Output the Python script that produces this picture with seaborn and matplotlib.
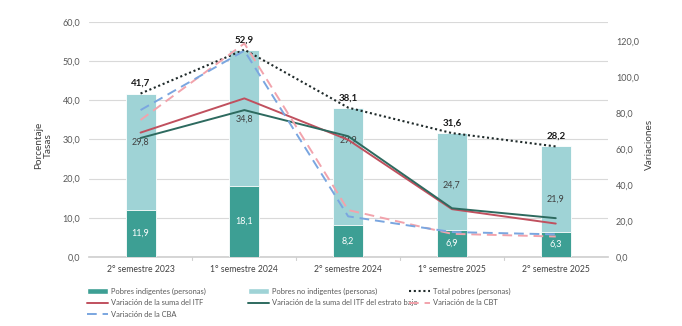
import numpy as np
import pandas as pd
import matplotlib
matplotlib.use("Agg")
import matplotlib.pyplot as plt
from matplotlib.lines import Line2D
from matplotlib.patches import Patch
import seaborn as sns

# Semesters and poverty rates (% of persons)
periodos = ["2° semestre 2023", "1° semestre 2024", "2° semestre 2024",
            "1° semestre 2025", "2° semestre 2025"]
indigentes = [11.9, 18.1, 8.2, 6.9, 6.3]
no_indigentes = [29.8, 34.8, 29.9, 24.7, 21.9]
total_pobres = [41.7, 52.9, 38.1, 31.6, 28.2]

# Year-on-year variations (%)
var_itf = [69.0, 88.0, 65.0, 26.5, 18.5]
var_itf_bajo = [66.0, 81.5, 67.0, 27.0, 21.5]
var_cbt = [76.0, 118.5, 26.0, 12.8, 11.3]
var_cba = [81.5, 114.5, 22.5, 13.8, 12.5]

# Vertical nudges for the non-indigent labels so they clear the lines
label_nudge = [2.5, -0.3, 6.7, -0.9, -2.4]

df = pd.DataFrame({"periodo": periodos, "indig": indigentes,
                   "no_indig": no_indigentes, "total": total_pobres})

sns.set_theme(style="white")
plt.rcParams["font.family"] = ["Lato", "DejaVu Sans"]

C_IND = "#3d9f94"
C_NOIND = "#9fd3d6"
C_ITF = "#c0505e"
C_BAJO = "#2d6a5f"
C_CBT = "#f2a3ac"
C_CBA = "#7aa6e0"
GRAY = "#595959"

fig = plt.figure(figsize=(6.82, 3.26), dpi=100)
ax = fig.add_axes([0.130, 0.212, 0.761, 0.721])
x = np.arange(len(periodos))
bw = 0.29

sns.barplot(data=df, x="periodo", y="total", color=C_NOIND, width=bw,
            edgecolor="white", linewidth=0.6, ax=ax, saturation=1, zorder=2)
sns.barplot(data=df, x="periodo", y="indig", color=C_IND, width=bw,
            edgecolor="white", linewidth=0.6, ax=ax, saturation=1, zorder=3)
ax.plot(x, total_pobres, linestyle=(0, (1, 1.3)), color="#1f2a2a", lw=1.5, zorder=4)

ax.set_ylim(0, 60)
ax.set_xlim(-0.5, 4.5)
ax.set_yticks(np.arange(0, 61, 10))
ax.set_yticklabels([f"{v:.1f}".replace(".", ",") for v in np.arange(0, 61, 10)])
ax.grid(axis="y", color="#d9d9d9", lw=0.8, zorder=0)
ax.set_axisbelow(True)
ax.set_xlabel("")
ax.set_ylabel("")
# Two-line left axis title, each line centred on the same height
for xf, line in [(0.056, "Porcentaje"), (0.071, "Tasas")]:
    fig.text(xf, 0.555, line, rotation=90, ha="center", va="center",
             fontsize=7.2, color="#404040")
for s in ["top", "right", "left"]:
    ax.spines[s].set_visible(False)
ax.spines["bottom"].set_color("#d0d0d0")
ax.tick_params(axis="y", length=0, labelsize=6.5, labelcolor=GRAY, pad=6)
ax.tick_params(axis="x", length=0, labelsize=6.2, labelcolor="#404040", pad=6)
for b in np.arange(0.5, 4.5, 1.0):
    ax.plot([b, b], [0, -0.9], color="#d0d0d0", lw=0.8, clip_on=False)

for i in range(len(periodos)):
    ax.text(x[i], indigentes[i] / 2, f"{indigentes[i]:.1f}".replace(".", ","),
            ha="center", va="center", color="white", fontsize=6.5, zorder=6)
    ax.text(x[i], indigentes[i] + no_indigentes[i] / 2 + label_nudge[i],
            f"{no_indigentes[i]:.1f}".replace(".", ","),
            ha="center", va="center", color="#404040", fontsize=6.5, zorder=6)
    ax.text(x[i], total_pobres[i] + 1.4, f"{total_pobres[i]:.1f}".replace(".", ","),
            ha="center", va="bottom", color="#1a1a1a", fontsize=7,
            fontweight="bold", zorder=6)

ax2 = ax.twinx()
ax2.set_ylim(0, 130.5)
ax2.set_yticks(np.arange(0, 121, 20))
ax2.set_yticklabels([f"{v:.1f}".replace(".", ",") for v in np.arange(0, 121, 20)])
for s in ax2.spines.values():
    s.set_visible(False)
ax2.tick_params(axis="y", length=0, labelsize=6.5, labelcolor=GRAY, pad=6)
ax2.set_ylabel("Variaciones", fontsize=7.2, color="#404040")
ax2.yaxis.set_label_coords(1.072, 0.48)

sns.lineplot(x=x, y=var_itf, color=C_ITF, lw=1.4, ax=ax2)
sns.lineplot(x=x, y=var_itf_bajo, color=C_BAJO, lw=1.4, ax=ax2)
ax2.plot(x, var_cbt, color=C_CBT, lw=1.4, linestyle=(0, (5, 3)))
ax2.plot(x, var_cba, color=C_CBA, lw=1.4, linestyle=(0, (5, 3)))

h_ind = Patch(facecolor=C_IND)
h_noind = Patch(facecolor=C_NOIND)
h_tot = Line2D([], [], color="#1f2a2a", lw=1.5, linestyle=(0, (1, 1.3)))
h_itf = Line2D([], [], color=C_ITF, lw=1.4)
h_bajo = Line2D([], [], color=C_BAJO, lw=1.4)
h_cbt = Line2D([], [], color=C_CBT, lw=1.4, linestyle=(0, (5, 3)))
h_cba = Line2D([], [], color=C_CBA, lw=1.4, linestyle=(0, (5, 3)))

cols = [
    ([h_ind, h_itf, h_cba], ["Pobres indigentes (personas)",
                              "Variación de la suma del ITF",
                              "Variación de la CBA"], 0.127),
    ([h_noind, h_bajo], ["Pobres no indigentes (personas)",
                         "Variación de la suma del ITF del estrato bajo"], 0.363),
    ([h_tot, h_cbt], ["Total pobres (personas)", "Variación de la CBT"], 0.599),
]
for handles, labels, xpos in cols:
    leg = fig.legend(handles, labels, loc="upper left", bbox_to_anchor=(xpos, 0.118),
                     frameon=False, fontsize=5.4, handlelength=2.8, handleheight=0.7,
                     handletextpad=0.5, labelspacing=0.62, borderaxespad=0,
                     borderpad=0)
    for t in leg.get_texts():
        t.set_color(GRAY)

fig.savefig("out.png", dpi=100)
